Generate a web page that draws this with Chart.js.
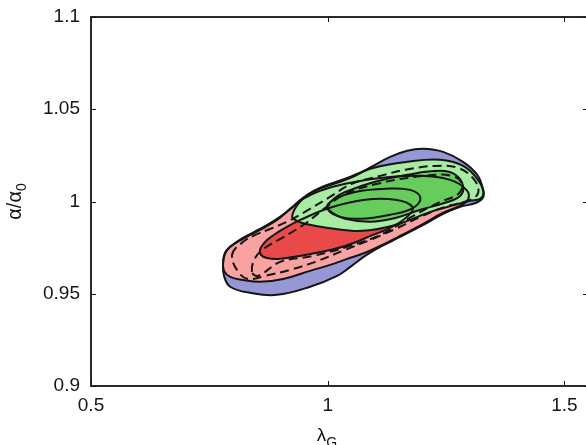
<!DOCTYPE html>
<html>
<head>
<meta charset="utf-8">
<script src="https://cdn.jsdelivr.net/npm/chart.js@4.4.1/dist/chart.umd.min.js"></script>
<style>
  html, body { margin: 0; padding: 0; background: #fff; overflow: hidden; }
  #wrap { width: 590px; height: 445px; }
</style>
</head>
<body>
<div id="wrap"><canvas id="contours" width="590" height="445"></canvas></div>
<script>
// ── Axis ticks ───────────────────────────────────────────
const xTicks = [0.5, 1, 1.5];
const xTickLabels = ['0.5', '1', '1.5'];
const yTicks = [0.9, 0.95, 1, 1.05, 1.1];
const yTickLabels = ['0.9', '0.95', '1', '1.05', '1.1'];

// ── Contours, [lambda_G, alpha/alpha0] ───────────────────
const blueOuter = [
  [0.779, 0.9662], [0.783, 0.9716], [0.794, 0.9754], [0.821, 0.9797], [0.857, 0.9846],
  [0.893, 0.9900], [0.921, 0.9960], [0.948, 1.0020], [0.978, 1.0063], [1.020, 1.0101],
  [1.058, 1.0139], [1.096, 1.0193], [1.132, 1.0242], [1.168, 1.0275], [1.202, 1.0286],
  [1.244, 1.0269], [1.286, 1.0215], [1.316, 1.0145], [1.327, 1.0079], [1.329, 1.0025],
  [1.314, 0.9993], [1.280, 0.9971], [1.244, 0.9933], [1.202, 0.9873], [1.153, 0.9808],
  [1.111, 0.9754], [1.079, 0.9705], [1.048, 0.9646], [1.020, 0.9597], [0.963, 0.9538],
  [0.893, 0.9494], [0.836, 0.9505], [0.794, 0.9538], [0.781, 0.9597],
];
const redOuter = [
  [0.779, 0.9668], [0.783, 0.9722], [0.796, 0.9759], [0.821, 0.9803], [0.857, 0.9851],
  [0.893, 0.9906], [0.921, 0.9960], [0.948, 1.0014], [0.984, 1.0058], [1.037, 1.0096],
  [1.111, 1.0128], [1.196, 1.0139], [1.259, 1.0117], [1.293, 1.0063], [1.297, 1.0014],
  [1.280, 0.9977], [1.244, 0.9939], [1.202, 0.9879], [1.153, 0.9813], [1.111, 0.9759],
  [1.079, 0.9722], [1.041, 0.9689], [1.012, 0.9662], [0.963, 0.9624], [0.906, 0.9580],
  [0.857, 0.9565], [0.821, 0.9575], [0.794, 0.9591], [0.781, 0.9624],
];
const redInner = [
  [0.857, 0.9738], [0.866, 0.9776], [0.883, 0.9813], [0.910, 0.9857], [0.942, 0.9900],
  [1.005, 0.9966], [1.079, 1.0009], [1.143, 1.0009], [1.179, 0.9971], [1.170, 0.9922],
  [1.132, 0.9857], [1.096, 0.9819], [1.037, 0.9759], [0.965, 0.9716], [0.895, 0.9689],
  [0.870, 0.9695], [0.859, 0.9711],
];
const greenOuter = [
  [0.925, 0.9922], [0.936, 0.9982], [0.957, 1.0036], [0.988, 1.0079], [1.037, 1.0123],
  [1.096, 1.0182], [1.168, 1.0215], [1.238, 1.0226], [1.286, 1.0193], [1.316, 1.0123],
  [1.329, 1.0052], [1.322, 1.0014], [1.301, 1.0004], [1.270, 0.9982], [1.217, 0.9944],
  [1.143, 0.9873], [1.073, 0.9841], [1.001, 0.9857], [0.952, 0.9879], [0.931, 0.9900],
];
const greenInner = [
  [0.999, 0.9971], [1.016, 1.0020], [1.037, 1.0052], [1.100, 1.0107], [1.168, 1.0145],
  [1.238, 1.0166], [1.270, 1.0145], [1.286, 1.0085], [1.280, 1.0030], [1.248, 0.9993],
  [1.196, 0.9955], [1.143, 0.9911], [1.090, 0.9890], [1.037, 0.9906], [1.010, 0.9939],
];
const greenCore = [
  [0.999, 0.9971], [1.016, 1.0014], [1.058, 1.0052], [1.122, 1.0069], [1.174, 1.0063],
  [1.196, 1.0020], [1.181, 0.9966], [1.132, 0.9928], [1.069, 0.9906], [1.020, 0.9922],
];
const dashedOuter = [
  [0.798, 0.9711], [0.819, 0.9776], [0.847, 0.9819], [0.878, 0.9851], [0.914, 0.9890],
  [0.952, 0.9944], [1.005, 1.0025], [1.051, 1.0096], [1.111, 1.0139], [1.164, 1.0172],
  [1.227, 1.0193], [1.276, 1.0182], [1.310, 1.0117], [1.318, 1.0047], [1.301, 1.0009],
  [1.248, 0.9971], [1.196, 0.9917], [1.143, 0.9851], [1.090, 0.9792], [1.037, 0.9738],
  [0.974, 0.9673], [0.921, 0.9630], [0.868, 0.9597], [0.832, 0.9580], [0.811, 0.9619],
];
const dashedInner = [
  [0.840, 0.9619], [0.847, 0.9695], [0.868, 0.9749], [0.904, 0.9803], [0.952, 0.9879],
  [0.995, 0.9966], [1.037, 1.0041], [1.105, 1.0096], [1.202, 1.0139], [1.263, 1.0139],
  [1.284, 1.0096], [1.276, 1.0041], [1.238, 0.9998], [1.181, 0.9922], [1.111, 0.9819],
  [1.041, 0.9754], [0.969, 0.9705], [0.900, 0.9673], [0.853, 0.9597],
];

const INK = '#151515';
const FONT = '"Liberation Sans", Arial, Helvetica, sans-serif';

// Wrap the ring so every vertex gets both neighbours for the spline:
// [last, p0 .. last, p0, p1]; the first and final segments are repeats and stay unstroked.
function ring(pts) {
  const n = pts.length;
  const seq = [pts[n - 1], ...pts, pts[0], pts[1]];
  return seq.map(([x, y]) => ({ x, y }));
}

const isRepeat = (c, n) => c.p0DataIndex === 0 || c.p0DataIndex === n + 1;

function filled(pts, color, order) {
  return {
    data: ring(pts),
    backgroundColor: color,
    borderWidth: 0,
    fill: 'shape',
    tension: 0.4,
    pointRadius: 0,
    order,
  };
}

function outline(pts, dash) {
  const n = pts.length;
  return {
    data: ring(pts),
    borderColor: INK,
    borderWidth: 2,
    borderDash: dash || [],
    fill: false,
    tension: 0.4,
    pointRadius: 0,
    order: 0,
    segment: { borderColor: c => (isRepeat(c, n) ? 'rgba(0,0,0,0)' : undefined) },
  };
}

// box round the plot with inward ticks on all four sides
const boxPlugin = {
  id: 'box',
  afterDatasetsDraw(chart) {
    const { ctx, chartArea: a, scales: { x, y } } = chart;
    const len = 5;
    ctx.save();
    ctx.strokeStyle = INK;
    ctx.lineWidth = 1.8;
    ctx.strokeRect(a.left, a.top, a.right - a.left, a.bottom - a.top);
    ctx.lineWidth = 1;
    ctx.beginPath();
    xTicks.forEach(v => {
      const px = Math.round(x.getPixelForValue(v)) + 0.5;
      ctx.moveTo(px, a.bottom); ctx.lineTo(px, a.bottom - len);
      ctx.moveTo(px, a.top);    ctx.lineTo(px, a.top + len);
    });
    yTicks.forEach(v => {
      const py = Math.round(y.getPixelForValue(v)) + 0.5;
      ctx.moveTo(a.left, py);  ctx.lineTo(a.left + len, py);
      ctx.moveTo(a.right, py); ctx.lineTo(a.right - len, py);
    });
    ctx.stroke();
    ctx.restore();
  },
  afterDraw(chart) {
    const { ctx, chartArea: a } = chart;
    ctx.save();
    ctx.fillStyle = INK;
    ctx.textBaseline = 'alphabetic';

    // x title: lambda_G
    const cx = 327;
    ctx.font = `19px ${FONT}`;
    const wl = ctx.measureText('λ').width;
    ctx.font = `14px ${FONT}`;
    const wg = ctx.measureText('G').width;
    let x0 = cx - (wl + wg) / 2;
    ctx.font = `19px ${FONT}`;
    ctx.fillText('λ', x0, 441);
    ctx.font = `14px ${FONT}`;
    ctx.fillText('G', x0 + wl, 447);

    // y title: alpha/alpha_0
    ctx.translate(21, (a.top + a.bottom) / 2);
    ctx.rotate(-Math.PI / 2);
    ctx.font = `20px ${FONT}`;
    const main = 'α/α';
    const wm = ctx.measureText(main).width;
    ctx.font = `14px ${FONT}`;
    const w0 = ctx.measureText('0').width;
    x0 = -(wm + w0) / 2;
    ctx.font = `20px ${FONT}`;
    ctx.fillText(main, x0, 0);
    ctx.font = `14px ${FONT}`;
    ctx.fillText('0', x0 + wm, 5);
    ctx.restore();
  },
};

new Chart(document.getElementById('contours'), {
  type: 'line',
  data: {
    datasets: [
      filled(blueOuter,  '#9698d6', 15),
      filled(redOuter,   '#f9a2a2', 14),
      filled(redInner,   '#e84a4a', 13),
      filled(greenOuter, '#a8eba2', 12),
      filled(greenInner, '#66cd5c', 11),
      outline(blueOuter),
      outline(redOuter),
      outline(redInner),
      outline(greenOuter),
      outline(greenInner),
      outline(greenCore),
      outline(dashedOuter, [9, 5]),
      outline(dashedInner, [9, 5]),
    ],
  },
  options: {
    responsive: false,
    animation: false,
    layout: { padding: { top: 17, right: 2, left: 0, bottom: 0 } },
    plugins: { legend: { display: false }, tooltip: { enabled: false } },
    scales: {
      x: {
        type: 'linear',
        min: 0.5,
        max: 1.55,
        grid: { display: false, drawTicks: false },
        border: { display: false },
        afterBuildTicks: s => { s.ticks = xTicks.map(v => ({ value: v })); },
        afterFit: s => { s.height = 59; s.paddingLeft = 0; s.paddingRight = 0; },
        ticks: {
          color: INK,
          padding: 8,
          autoSkip: false,
          maxRotation: 0,
          font: { family: FONT, size: 19 },
          callback: v => xTickLabels[xTicks.indexOf(v)],
        },
      },
      y: {
        type: 'linear',
        min: 0.9,
        max: 1.1,
        grid: { display: false, drawTicks: false },
        border: { display: false },
        afterBuildTicks: s => { s.ticks = yTicks.map(v => ({ value: v })); },
        afterFit: s => { s.width = 91; s.paddingTop = 0; s.paddingBottom = 0; },
        ticks: {
          color: INK,
          padding: 11,
          font: { family: FONT, size: 19 },
          callback: v => yTickLabels[yTicks.indexOf(v)],
        },
      },
    },
  },
  plugins: [boxPlugin],
});
</script>
</body>
</html>
